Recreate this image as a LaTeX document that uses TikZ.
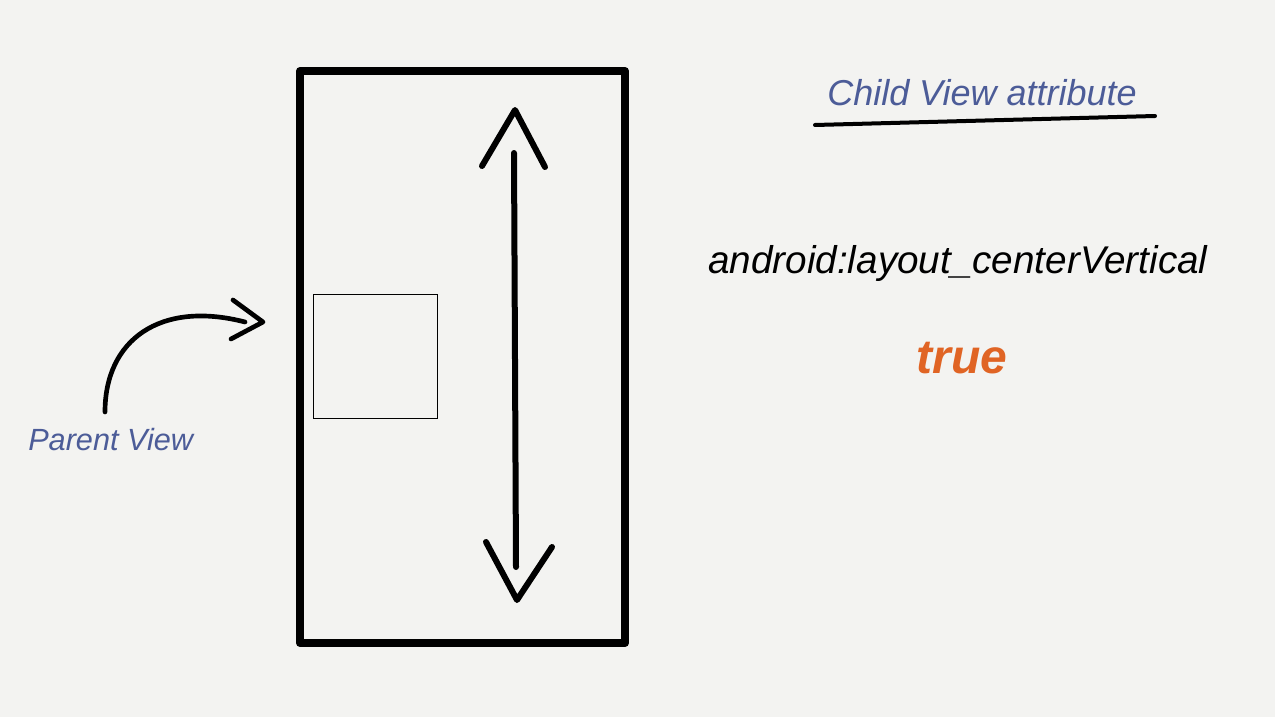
\documentclass[tikz,border=0pt]{standalone}
\usepackage{fontspec}
\setmainfont{Liberation Sans}
\begin{document}
\begin{tikzpicture}[x=0.75pt,y=-0.75pt,
  ink/.style={line cap=round,line join=round,draw=black},
  bluetext/.style={text=penblue,font=\itshape\fontsize{27}{29}\selectfont,inner sep=0pt},
  ]
\definecolor{paper}{HTML}{F3F3F1}
\definecolor{penblue}{HTML}{4C5C98}
\definecolor{penorange}{HTML}{E06424}
\fill[paper] (0,0) rectangle (1275,717);
\useasboundingbox (0,0) rectangle (1275,717);
% parent view box
\draw[ink,line width=6pt] (300,71) rectangle (625,643);
% child view
\node[draw=black,line width=1.1pt,minimum width=93pt,minimum height=93pt,inner sep=0pt,anchor=north west] (child) at (313,294) {};
% vertical double arrow
\coordinate (atop) at (515,110);
\coordinate (abot) at (517,600);
\draw[ink,line width=4.5pt] (514,153) -- (516,567);
\draw[ink,line width=4.5pt] (482,166) -- (atop) -- (545,167);
\draw[ink,line width=4.5pt] (486,542) -- (abot) -- (552,547);
% curved arrow
\node[bluetext,font=\itshape\fontsize{23}{25}\selectfont,anchor=base west] (parent) at (28,450) {Parent View};
\coordinate (ctip) at (263,322);
\draw[ink,line width=3.5pt] (105,412) .. controls (105,340) and (160,300) .. (245,322);
\draw[ink,line width=3.5pt] (233,300) -- (ctip) -- (231,339);
% texts
\node[bluetext,anchor=base] (title) at (982,105) {Child View attribute};
\draw[ink,line width=3pt] (815,125) -- (1155,116);
\node[font=\itshape\fontsize{29}{31}\selectfont,anchor=base west,inner sep=0pt] (attr) at (708,273) {android:layout\_centerVertical};
\node[text=penorange,font=\bfseries\itshape\fontsize{36}{38}\selectfont,anchor=base,inner sep=0pt] (val) at (962,373) {true};
\end{tikzpicture}
\end{document}
